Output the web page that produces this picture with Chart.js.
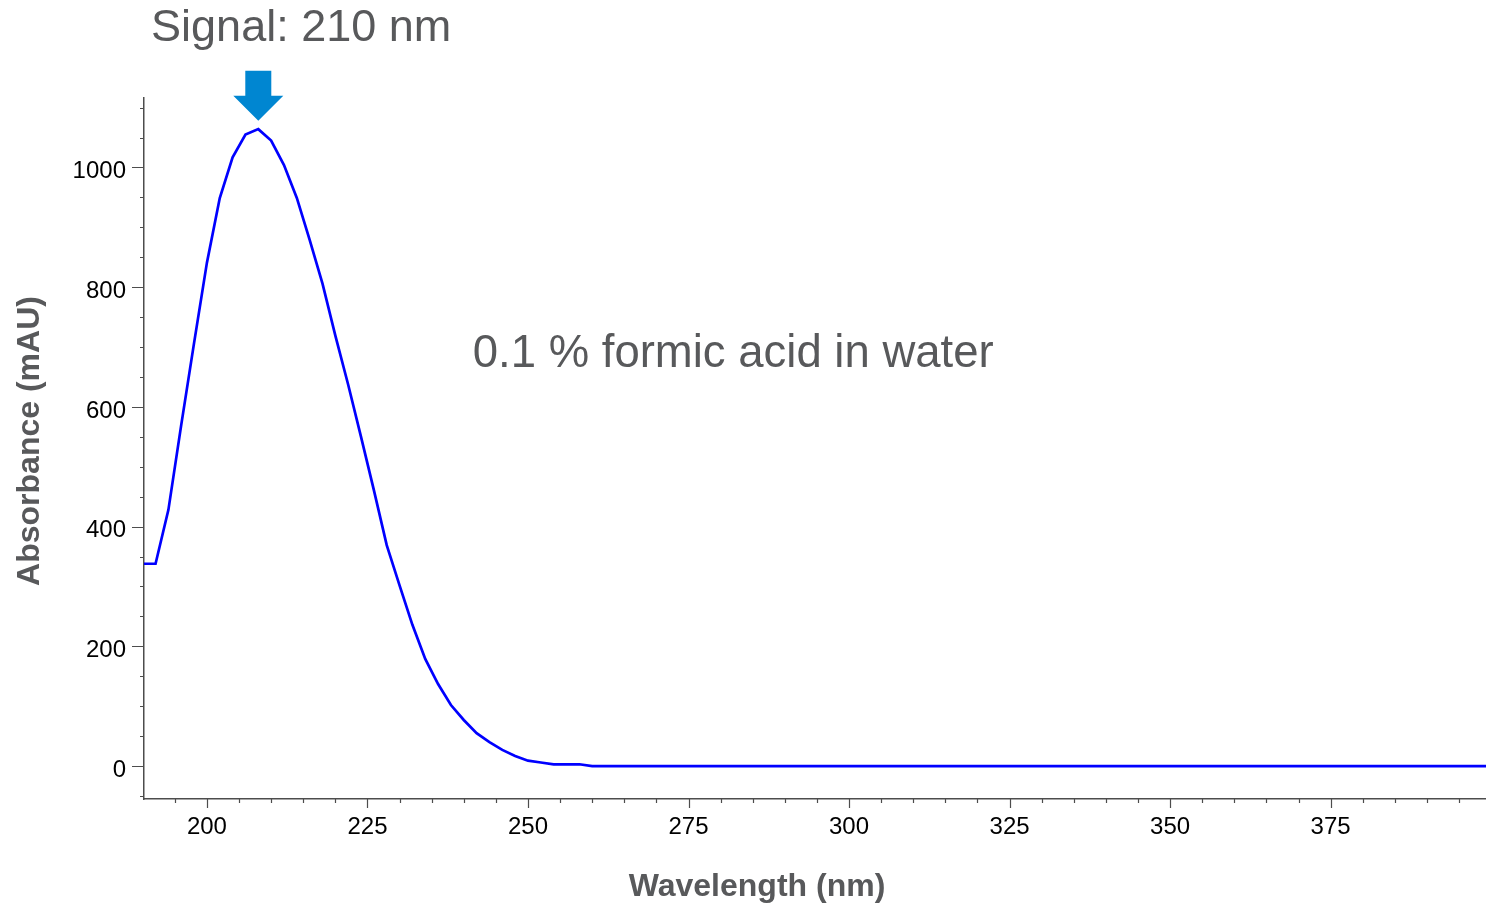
<!DOCTYPE html>
<html>
<head>
<meta charset="utf-8">
<title>UV spectrum</title>
<script src="https://cdn.jsdelivr.net/npm/chart.js@4"></script>
<style>
  body { margin: 0; background: #fff; }
  canvas { display: block; }
</style>
</head>
<body>
<canvas id="spectrum" width="1486" height="906"></canvas>
<script>
// Spectrum of 0.1 % formic acid in water
const wavelengths = [190, 192, 194, 196, 198, 200, 202, 204, 206, 208, 210, 212, 214, 216, 218, 220,
  222, 224, 226, 228, 230, 232, 234, 236, 238, 240, 242, 244, 246, 248, 250, 252, 254, 256, 258, 260,
  280, 300, 320, 340, 360, 380, 400];
const absorbance = [338, 338, 428, 570, 707, 841, 949, 1017, 1055, 1064, 1045, 1004, 949, 879, 806, 719,
  637, 550, 461, 369, 302, 236, 179, 137, 102, 77, 55, 40, 27, 17, 9, 6, 3, 3, 3, 0,
  0, 0, 0, 0, 0, 0, 0];

const xTickValues = [200, 225, 250, 275, 300, 325, 350, 375];
const yTickValues = [0, 200, 400, 600, 800, 1000];
const xMinorStep = 5;
const yMinorStep = 50;

const signalLabel = 'Signal: 210 nm';
const sampleLabel = '0.1 % formic acid in water';
const peakWavelength = 208;

const FONT = '"Liberation Sans", Arial, sans-serif';
const GREY_TEXT = '#58595b';
const AXIS_COLOR = '#4d4d4d';

// minor/major tick marks, axis titles, arrow and labels
const decorations = {
  id: 'decorations',
  afterDraw(chart) {
    const ctx = chart.ctx;
    const x = chart.scales.x, y = chart.scales.y;
    const area = chart.chartArea;
    ctx.save();
    ctx.strokeStyle = AXIS_COLOR;
    ctx.lineWidth = 1.2;
    ctx.beginPath();
    for (let v = Math.ceil(x.min / xMinorStep) * xMinorStep; v <= x.max; v += xMinorStep) {
      const px = Math.round(x.getPixelForValue(v)) + 0.5;
      const len = v % 25 === 0 ? 9 : 4;
      ctx.moveTo(px, area.bottom);
      ctx.lineTo(px, area.bottom + len);
    }
    for (let v = Math.ceil(y.min / yMinorStep) * yMinorStep; v <= y.max; v += yMinorStep) {
      const py = Math.round(y.getPixelForValue(v)) + 0.5;
      const len = v % 200 === 0 ? 12 : 4;
      ctx.moveTo(area.left, py);
      ctx.lineTo(area.left - len, py);
    }
    ctx.stroke();

    // axis titles
    ctx.fillStyle = GREY_TEXT;
    ctx.font = 'bold 32px ' + FONT;
    ctx.textAlign = 'center';
    ctx.textBaseline = 'middle';
    ctx.fillText('Wavelength (nm)', 757, 887);
    ctx.save();
    ctx.translate(30, 441);
    ctx.rotate(-Math.PI / 2);
    ctx.fillText('Absorbance (mAU)', 0, 0);
    ctx.restore();

    // annotations
    ctx.textAlign = 'left';
    ctx.textBaseline = 'alphabetic';
    ctx.font = '45px ' + FONT;
    ctx.fillText(signalLabel, x.getPixelForValue(191.3), 41);
    ctx.font = '45.5px ' + FONT;
    ctx.fillText(sampleLabel, x.getPixelForValue(241.4), y.getPixelForValue(667));

    // arrow over the peak
    const ax = x.getPixelForValue(peakWavelength);
    const tip = y.getPixelForValue(1078);
    ctx.fillStyle = '#0086d1';
    ctx.beginPath();
    ctx.moveTo(ax - 13, tip - 50);
    ctx.lineTo(ax + 13, tip - 50);
    ctx.lineTo(ax + 13, tip - 25);
    ctx.lineTo(ax + 25, tip - 25);
    ctx.lineTo(ax, tip);
    ctx.lineTo(ax - 25, tip - 25);
    ctx.lineTo(ax - 13, tip - 25);
    ctx.closePath();
    ctx.fill();
    ctx.restore();
  }
};

new Chart(document.getElementById('spectrum'), {
  type: 'line',
  data: {
    datasets: [{
      data: wavelengths.map((w, i) => ({ x: w, y: absorbance[i] })),
      borderColor: '#0000ff',
      borderWidth: 2.7,
      pointRadius: 0,
      tension: 0,
      fill: false
    }]
  },
  options: {
    responsive: false,
    animation: false,
    layout: { padding: { top: 98, right: 0, left: 0, bottom: 0 } },
    plugins: { legend: { display: false }, tooltip: { enabled: false } },
    scales: {
      x: {
        type: 'linear',
        min: 190.2,
        max: 399.2,
        afterBuildTicks: s => { s.ticks = xTickValues.map(v => ({ value: v })); },
        afterFit: s => { s.height = 107; },
        grid: { display: false },
        border: { display: true, color: AXIS_COLOR, width: 1.5 },
        ticks: { color: '#000', font: { family: FONT, size: 24 }, padding: 6, maxRotation: 0,
          callback: v => String(v) }
      },
      y: {
        min: -55,
        max: 1116,
        afterBuildTicks: s => { s.ticks = yTickValues.map(v => ({ value: v })); },
        afterFit: s => { s.width = 144; },
        grid: { display: false },
        border: { display: true, color: AXIS_COLOR, width: 1.5 },
        ticks: { color: '#000', font: { family: FONT, size: 24 }, padding: 10, labelOffset: 4,
          callback: v => String(v) }
      }
    }
  },
  plugins: [decorations]
});
</script>
</body>
</html>
